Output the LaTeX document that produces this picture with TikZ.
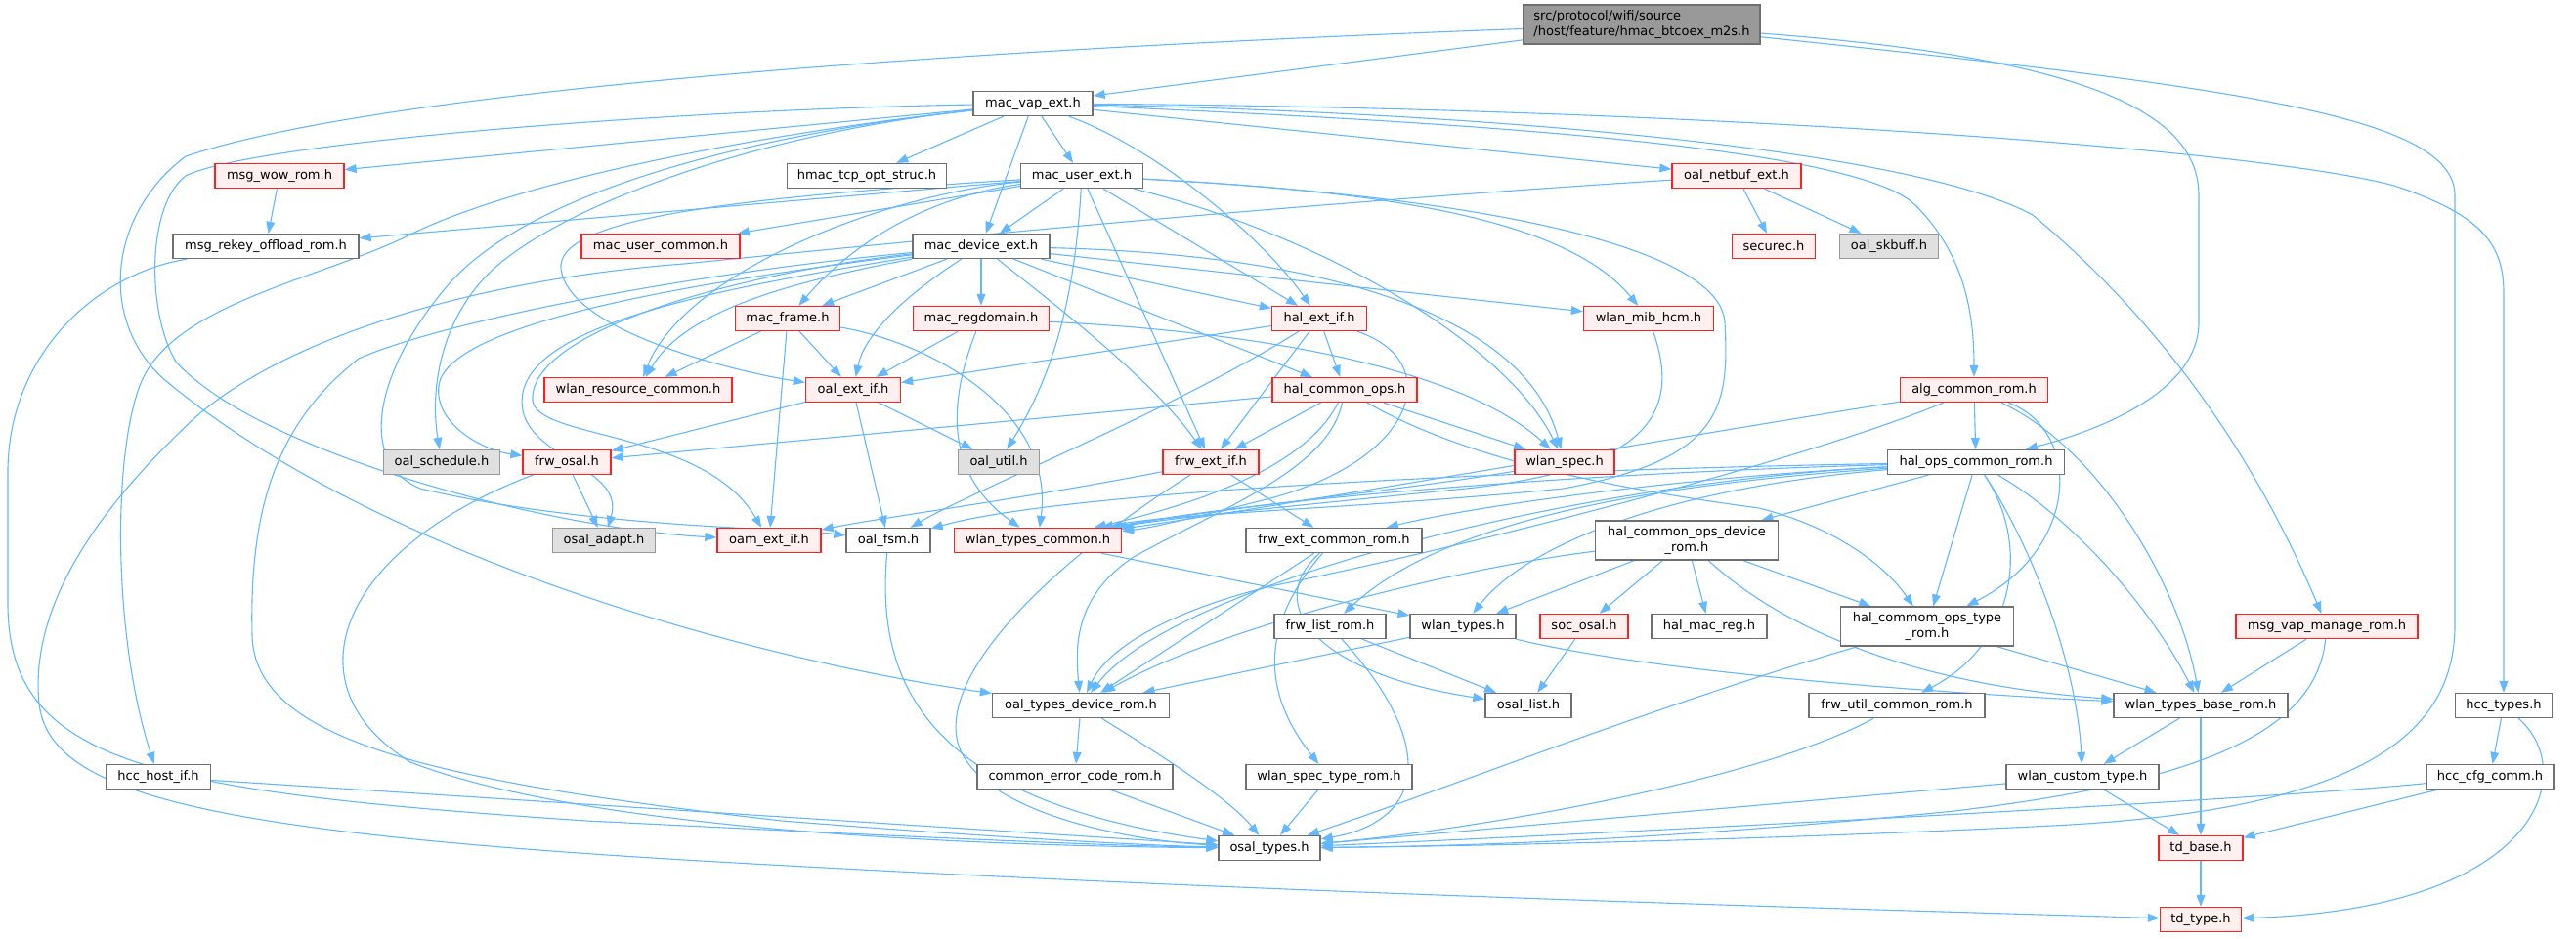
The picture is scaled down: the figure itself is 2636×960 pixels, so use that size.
\documentclass[tikz,border=0pt]{standalone}
\usepackage{fontspec}
\setmainfont{DejaVu Sans}
\usetikzlibrary{arrows.meta}
\pgfdeclarelayer{edges}
\pgfsetlayers{edges,main}
\definecolor{edgecol}{HTML}{63B8FF}
\definecolor{nodegray}{HTML}{707070}
\definecolor{nodered}{HTML}{FF2020}
\definecolor{redfill}{HTML}{FFF0F0}
\definecolor{graybd}{HTML}{999999}
\definecolor{grayfill}{HTML}{E0E0E0}
\definecolor{rootfill}{HTML}{999999}
\newcommand{\nodefont}{\fontsize{6.5pt}{7.6pt}\selectfont}
\tikzset{
  nb/.style={draw=nodegray, fill=white, line width=0.65pt, inner sep=0pt, minimum height=12.5pt, font=\nodefont, align=center},
  nr/.style={nb, draw=nodered, fill=redfill},
  ng/.style={nb, draw=graybd, fill=grayfill},
  nroot/.style={nb, fill=rootfill, draw=nodegray, minimum height=20pt, align=left},
  two/.style={minimum height=20pt},
  e/.style={draw=edgecol, line width=0.55pt, -{Triangle[length=6pt,width=4.4pt]}},
}
\begin{document}
\begin{tikzpicture}[x=0.5pt,y=-0.5pt]
\useasboundingbox (0,0) rectangle (2636,960);
\begin{pgfonlayer}{edges}
\fill[white] (0,0) rectangle (2636,960);
\end{pgfonlayer}
% ---------- nodes ----------
\node[nroot, minimum width=121pt] (root) at (1680,25) {src/protocol/wifi/source\\/host/feature/hmac\_btcoex\_m2s.h};
\node[nb, minimum width=61pt] (macvap) at (1057,106) {mac\_vap\_ext.h};
\node[nr, minimum width=66pt] (msgwow) at (286,180) {msg\_wow\_rom.h};
\node[nb, minimum width=81.5pt] (hmactcp) at (887,180) {hmac\_tcp\_opt\_struc.h};
\node[nb, minimum width=62.5pt] (macuser) at (1107,180) {mac\_user\_ext.h};
\node[nr, minimum width=66pt] (oalnetbuf) at (1777,180) {oal\_netbuf\_ext.h};
\node[nb, minimum width=95pt] (msgrekey) at (272,252) {msg\_rekey\_offload\_rom.h};
\node[nr, minimum width=81pt] (macusercommon) at (676,252) {mac\_user\_common.h};
\node[nb, minimum width=70pt] (macdevice) at (1004,252) {mac\_device\_ext.h};
\node[nr, minimum width=42.5pt] (securec) at (1815,252) {securec.h};
\node[ng, minimum width=50.5pt] (oalskbuff) at (1933,252) {oal\_skbuff.h};
\node[nr, minimum width=53.5pt] (macframe) at (806,326) {mac\_frame.h};
\node[nr, minimum width=69.5pt] (macreg) at (1004,326) {mac\_regdomain.h};
\node[nr, minimum width=48.5pt] (halextif) at (1350,326) {hal\_ext\_if.h};
\node[nr, minimum width=66.5pt] (wlanmib) at (1687,326) {wlan\_mib\_hcm.h};
\node[nr, minimum width=96pt] (wlanres) at (653,399) {wlan\_resource\_common.h};
\node[nr, minimum width=48.5pt] (oalextif) at (873,399) {oal\_ext\_if.h};
\node[nr, minimum width=74pt] (halcommonops) at (1376,399) {hal\_common\_ops.h};
\node[nr, minimum width=75.5pt] (algcommon) at (2020,399) {alg\_common\_rom.h};
\node[ng, minimum width=59.5pt] (oalschedule) at (452,473) {oal\_schedule.h};
\node[nr, minimum width=45pt] (frwosal) at (580,473) {frw\_osal.h};
\node[ng, minimum width=41.5pt] (oalutil) at (1022,473) {oal\_util.h};
\node[nr, minimum width=49pt] (frwextif) at (1239,473) {frw\_ext\_if.h};
\node[nr, minimum width=51pt] (wlanspec) at (1601,473) {wlan\_spec.h};
\node[nb, minimum width=90.5pt] (halops) at (2022,473) {hal\_ops\_common\_rom.h};
\node[ng, minimum width=52.5pt] (osaladapt) at (618,553) {osal\_adapt.h};
\node[nr, minimum width=53pt] (oamextif) at (787,553) {oam\_ext\_if.h};
\node[nb, minimum width=43pt] (oalfsm) at (909,553) {oal\_fsm.h};
\node[nr, minimum width=85.5pt] (wtcommon) at (1062,553) {wlan\_types\_common.h};
\node[nb, minimum width=90pt] (frwextcommon) at (1365,553) {frw\_ext\_common\_rom.h};
\node[nb, two, minimum width=93.5pt] (hcodr) at (1726,553) {hal\_common\_ops\_device\\\_rom.h};
\node[nb, minimum width=57pt] (frwlist) at (1361,641) {frw\_list\_rom.h};
\node[nb, minimum width=54pt] (wlantypes) at (1497,641) {wlan\_types.h};
\node[nr, minimum width=45pt] (socosal) at (1621,641) {soc\_osal.h};
\node[nb, minimum width=59pt] (halmacreg) at (1749,641) {hal\_mac\_reg.h};
\node[nb, two, minimum width=88.5pt] (hcotr) at (1972,641) {hal\_commom\_ops\_type\\\_rom.h};
\node[nr, minimum width=93pt] (msgvap) at (2381,641) {msg\_vap\_manage\_rom.h};
\node[nb, minimum width=90.5pt] (oaltdr) at (1106,722) {oal\_types\_device\_rom.h};
\node[nb, minimum width=44pt] (osallist) at (1564,722) {osal\_list.h};
\node[nb, minimum width=90pt] (frwutil) at (1941,722) {frw\_util\_common\_rom.h};
\node[nb, minimum width=89pt] (wtbase) at (2252,722) {wlan\_types\_base\_rom.h};
\node[nb, minimum width=49.5pt] (hcctypes) at (2562,722) {hcc\_types.h};
\node[nb, minimum width=53.5pt] (hcchost) at (162,795) {hcc\_host\_if.h};
\node[nb, minimum width=100pt] (commonerr) at (1100,795) {common\_error\_code\_rom.h};
\node[nb, minimum width=85pt] (wlanspectype) at (1360,795) {wlan\_spec\_type\_rom.h};
\node[nb, minimum width=78pt] (wlancustom) at (2131,795) {wlan\_custom\_type.h};
\node[nb, minimum width=65pt] (hcccfg) at (2548,795) {hcc\_cfg\_comm.h};
\node[nb, minimum width=52pt] (osaltypes) at (1299,868) {osal\_types.h};
\node[nr, minimum width=43pt] (tdbase) at (2252,868) {td\_base.h};
\node[nr, minimum width=41.5pt] (tdtype) at (2252,941) {td\_type.h};
% ---------- edges ----------
\begin{pgfonlayer}{edges}
% root
\draw[e] (root) -- (macvap);
\draw[e] (root) .. controls (1000,50) and (400,90) .. (190,160) .. controls (110,220) and (100,330) .. (170,390) .. controls (400,580) and (800,680) .. (oaltdr);
\draw[e] (root) .. controls (2150,60) and (2250,120) .. (2250,200) -- (2250,330) .. controls (2250,400) and (2150,440) .. (halops);
\draw[e] (root) .. controls (2300,90) and (2512,120) .. (2512,200) -- (2512,640) .. controls (2512,760) and (2400,830) .. (2100,845) .. controls (1800,860) and (1500,866) .. (osaltypes);
% mac_vap_ext
\draw[e] (macvap) -- (msgwow);
\draw[e] (macvap) -- (hmactcp);
\draw[e] (macvap) -- (macuser);
\draw[e] (macvap) -- (macdevice);
\draw[e] (macvap) .. controls (1180,150) and (1290,240) .. (halextif);
\draw[e] (macvap) -- (oalnetbuf);
\draw[e] (macvap) .. controls (1500,125) and (1900,150) .. (1960,210) .. controls (2010,260) and (2020,320) .. (algcommon);
\draw[e] (macvap) .. controls (1500,115) and (1950,150) .. (2080,220) .. controls (2200,320) and (2300,450) .. (msgvap);
\draw[e] (macvap) .. controls (1700,110) and (2300,150) .. (2450,190) .. controls (2540,220) and (2562,250) .. (2562,300) -- (hcctypes);
\draw[e] (macvap) .. controls (750,140) and (520,190) .. (420,240) .. controls (330,285) and (180,310) .. (145,390) .. controls (115,460) and (115,650) .. (hcchost);
\draw[e] (macvap) .. controls (700,112) and (260,145) .. (190,180) .. controls (150,210) and (150,320) .. (180,370) .. controls (260,460) and (550,540) .. (oamextif);
\draw[e] (macvap) .. controls (750,140) and (540,200) .. (460,290) .. controls (390,370) and (360,470) .. (430,500) .. controls (600,540) and (800,540) .. (oalfsm);
\draw[e] (macvap) .. controls (750,140) and (560,220) .. (500,280) .. controls (450,330) and (440,400) .. (oalschedule);
% mac_user_ext
\draw[e] (macuser) -- (msgrekey);
\draw[e] (macuser) -- (macusercommon);
\draw[e] (macuser) -- (macdevice);
\draw[e] (macuser) .. controls (960,200) and (880,240) .. (macframe);
\draw[e] (macuser) -- (halextif);
\draw[e] (macuser) .. controls (1400,195) and (1600,220) .. (wlanmib);
\draw[e] (macuser) .. controls (900,200) and (700,280) .. (wlanres);
\draw[e] (macuser) .. controls (700,205) and (560,230) .. (575,280) .. controls (590,340) and (750,380) .. (oalextif);
\draw[e] (macuser) .. controls (1100,300) and (1080,380) .. (oalutil);
\draw[e] (macuser) -- (frwextif);
\draw[e] (macuser) .. controls (1350,240) and (1540,350) .. (wlanspec);
\draw[e] (macuser) .. controls (1500,200) and (1760,250) .. (1765,330) .. controls (1770,420) and (1760,470) .. (1600,500) .. controls (1400,520) and (1200,525) .. (wtcommon);
% msg
\draw[e] (msgwow) -- (msgrekey);
\draw[e] (msgrekey) .. controls (100,280) and (10,360) .. (8,480) -- (8,620) .. controls (10,780) and (150,810) .. (600,840) .. controls (1000,860) and (1150,866) .. (osaltypes);
% oal_netbuf
\draw[e] (oalnetbuf) -- (securec);
\draw[e] (oalnetbuf) -- (oalskbuff);
\draw[e] (oalnetbuf) .. controls (1300,210) and (900,250) .. (700,270) .. controls (500,285) and (300,340) .. (200,427) .. controls (100,520) and (30,620) .. (40,720) .. controls (50,810) and (200,850) .. (700,880) .. controls (1300,915) and (1900,930) .. (tdtype);
% mac_device_ext
\draw[e] (macdevice) -- (macframe);
\draw[e] (macdevice) -- (macreg);
\draw[e] (macdevice) -- (halextif);
\draw[e] (macdevice) -- (wlanmib);
\draw[e] (macdevice) .. controls (800,290) and (700,320) .. (wlanres);
\draw[e] (macdevice) .. controls (930,300) and (885,340) .. (oalextif);
\draw[e] (macdevice) -- (halcommonops);
\draw[e] (macdevice) .. controls (1090,320) and (1180,390) .. (frwextif);
\draw[e] (macdevice) .. controls (1350,260) and (1560,320) .. (wlanspec);
\draw[e] (macdevice) .. controls (700,290) and (470,330) .. (450,390) .. controls (440,430) and (490,460) .. (frwosal);
\draw[e] (macdevice) .. controls (700,300) and (520,340) .. (535,420) .. controls (545,470) and (640,480) .. (osaladapt);
\draw[e] (macdevice) .. controls (750,280) and (540,340) .. (545,410) .. controls (550,450) and (720,440) .. (oamextif);
\draw[e] (macdevice) .. controls (700,280) and (450,330) .. (367,367) .. controls (283,433) and (255,520) .. (258,650) .. controls (260,760) and (450,800) .. (800,840) .. controls (1050,860) and (1200,866) .. (osaltypes);
% mac_frame
\draw[e] (macframe) -- (wlanres);
\draw[e] (macframe) -- (oalextif);
\draw[e] (macframe) -- (oamextif);
\draw[e] (macframe) .. controls (950,350) and (1080,420) .. (wtcommon);
% mac_regdomain
\draw[e] (macreg) -- (oalextif);
\draw[e] (macreg) .. controls (975,400) and (960,480) .. (wtcommon);
\draw[e] (macreg) .. controls (1300,340) and (1500,380) .. (wlanspec);
% hal_ext_if
\draw[e] (halextif) -- (oalextif);
\draw[e] (halextif) -- (halcommonops);
\draw[e] (halextif) -- (frwextif);
\draw[e] (halextif) .. controls (1200,420) and (1000,500) .. (oalfsm);
\draw[e] (halextif) .. controls (1480,370) and (1450,470) .. (1300,510) .. controls (1220,530) and (1180,540) .. (wtcommon);
% wlan_mib_hcm
\draw[e] (wlanmib) .. controls (1720,420) and (1690,480) .. (1500,500) .. controls (1300,520) and (1200,530) .. (wtcommon);
% oal_ext_if
\draw[e] (oalextif) -- (frwosal);
\draw[e] (oalextif) -- (oalutil);
\draw[e] (oalextif) -- (oalfsm);
% hal_common_ops
\draw[e] (halcommonops) -- (frwosal);
\draw[e] (halcommonops) -- (frwextif);
\draw[e] (halcommonops) -- (wlanspec);
\draw[e] (halcommonops) .. controls (1340,470) and (1250,510) .. (wtcommon);
\draw[e] (halcommonops) .. controls (1360,480) and (1250,520) .. (1160,570) .. controls (1100,610) and (1100,660) .. (oaltdr);
\draw[e] (halcommonops) .. controls (1500,470) and (1650,500) .. (1800,520) .. controls (1880,540) and (1930,580) .. (hcotr);
% alg_common_rom
\draw[e] (algcommon) -- (halops);
\draw[e] (algcommon) .. controls (1700,450) and (1300,520) .. (wtcommon);
\draw[e] (algcommon) .. controls (1850,470) and (1500,560) .. (1300,600) .. controls (1180,630) and (1130,670) .. (oaltdr);
\draw[e] (algcommon) .. controls (2130,440) and (2130,560) .. (hcotr);
\draw[e] (algcommon) .. controls (2150,460) and (2230,600) .. (wtbase);
% hal_ops_common_rom
\draw[e] (halops) -- (hcodr);
\draw[e] (halops) -- (hcotr);
\draw[e] (halops) .. controls (1700,490) and (1500,520) .. (frwextcommon);
\draw[e] (halops) .. controls (1600,480) and (1100,500) .. (oalfsm);
\draw[e] (halops) .. controls (1600,485) and (1300,510) .. (wtcommon);
\draw[e] (halops) .. controls (1700,495) and (1480,530) .. (frwlist);
\draw[e] (halops) .. controls (1700,500) and (1560,560) .. (wlantypes);
\draw[e] (halops) .. controls (1600,495) and (1200,600) .. (oaltdr);
\draw[e] (halops) .. controls (2080,560) and (2060,660) .. (frwutil);
\draw[e] (halops) .. controls (2120,530) and (2200,620) .. (wtbase);
\draw[e] (halops) .. controls (2080,560) and (2125,680) .. (wlancustom);
% row 7
\draw[e] (wlanspec) .. controls (1450,500) and (1250,520) .. (wtcommon);
\draw[e] (frwextif) -- (frwextcommon);
\draw[e] (frwextif) .. controls (1050,510) and (900,530) .. (oamextif);
\draw[e] (frwextif) .. controls (1100,560) and (960,680) .. (980,760) .. controls (1000,830) and (1150,860) .. (osaltypes);
\draw[e] (frwosal) -- (osaladapt);
\draw[e] (frwosal) .. controls (350,560) and (290,700) .. (420,780) .. controls (600,850) and (1000,866) .. (osaltypes);
% row 8
\draw[e] (oalfsm) .. controls (895,700) and (950,820) .. (osaltypes);
\draw[e] (wtcommon) -- (wlantypes);
\draw[e] (frwextcommon) -- (oaltdr);
\draw[e] (frwextcommon) .. controls (1290,620) and (1350,690) .. (osallist);
\draw[e] (frwextcommon) .. controls (1280,650) and (1300,720) .. (wlanspectype);
\draw[e] (hcodr) -- (wlantypes);
\draw[e] (hcodr) -- (socosal);
\draw[e] (hcodr) -- (halmacreg);
\draw[e] (hcodr) -- (hcotr);
\draw[e] (hcodr) .. controls (1500,580) and (1250,640) .. (oaltdr);
\draw[e] (hcodr) .. controls (1820,640) and (1950,700) .. (wtbase);
% row 9
\draw[e] (frwlist) -- (osallist);
\draw[e] (frwlist) .. controls (1470,760) and (1460,840) .. (osaltypes);
\draw[e] (wlantypes) -- (oaltdr);
\draw[e] (wlantypes) .. controls (1700,690) and (2000,710) .. (wtbase);
\draw[e] (socosal) -- (osallist);
\draw[e] (hcotr) -- (wtbase);
\draw[e] (hcotr) .. controls (1700,720) and (1500,800) .. (osaltypes);
\draw[e] (msgvap) -- (wtbase);
\draw[e] (msgvap) .. controls (2370,750) and (2250,800) .. (2000,830) .. controls (1700,860) and (1500,866) .. (osaltypes);
% row 10
\draw[e] (oaltdr) -- (commonerr);
\draw[e] (oaltdr) .. controls (1200,780) and (1260,820) .. (osaltypes);
\draw[e] (frwutil) .. controls (1800,800) and (1500,850) .. (osaltypes);
\draw[e] (wtbase) -- (wlancustom);
\draw[e] (wtbase) -- (tdbase);
\draw[e] (hcctypes) -- (hcccfg);
\draw[e] (hcctypes) .. controls (2640,790) and (2600,930) .. (tdtype);
% row 11
\draw[e] (commonerr) -- (osaltypes);
\draw[e] (wlanspectype) -- (osaltypes);
\draw[e] (wlancustom) -- (osaltypes);
\draw[e] (wlancustom) -- (tdbase);
\draw[e] (hcccfg) .. controls (2300,820) and (1600,855) .. (osaltypes);
\draw[e] (hcccfg) -- (tdbase);
\draw[e] (hcchost) -- (osaltypes);
\draw[e] (tdbase) -- (tdtype);
\end{pgfonlayer}
\end{tikzpicture}
\end{document}
